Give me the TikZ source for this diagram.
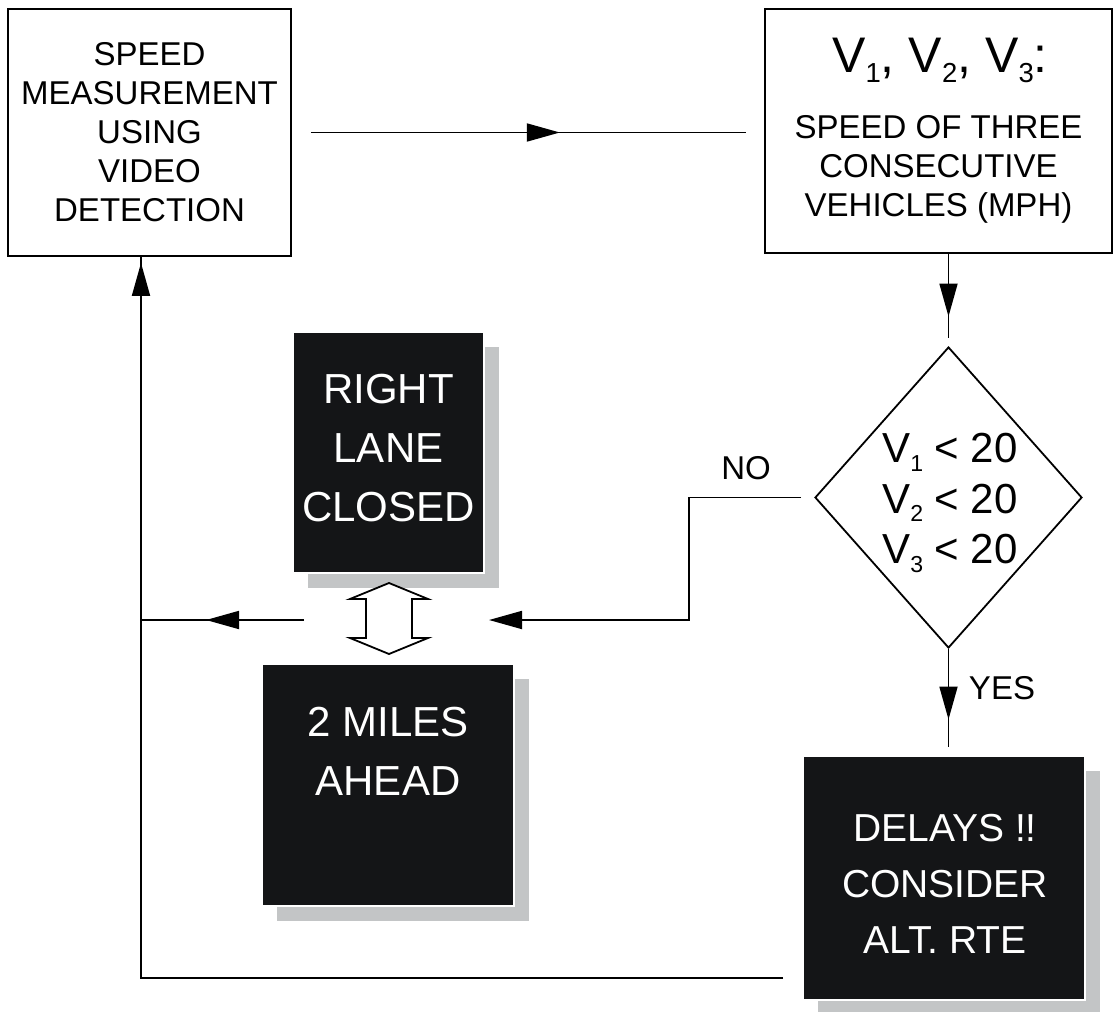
\documentclass[tikz,border=0pt]{standalone}
\usepackage{fontspec}
\setmainfont{Liberation Sans}
\usetikzlibrary{arrows.meta,shapes.geometric,decorations.markings,calc}

\definecolor{signblack}{HTML}{141517}
\definecolor{signshadow}{HTML}{C3C5C6}

% small lowered index, as in V1
\newcommand\vidx[1]{\raisebox{-0.2em}{\scalebox{0.55}{#1}}}

\tikzset{
  >={Triangle[length=16.5pt,width=9pt]},
  wire/.style={line width=0.9pt},
  midarrow/.style={postaction={decorate},
    decoration={markings, mark=at position #1 with {\arrow{>}}}},
  plainbox/.style={draw, line width=0.9pt, inner sep=0pt},
  sign/.style={fill=signblack, draw=white, line width=1pt, inner sep=0pt},
  signshade/.style={fill=signshadow, inner sep=0pt},
  labeltext/.style={font=\fontsize{16.5}{19.5}\selectfont, align=center, inner sep=0pt},
  signtext/.style={text=white, font=\fontsize{21}{29.5}\selectfont, align=center, inner sep=0pt},
}

\begin{document}
\begin{tikzpicture}[x=0.5pt, y=-0.5pt]
\useasboundingbox (0,0) rectangle (1120,1012);

% measurement box
\node[plainbox, labeltext, minimum width=141.5pt, minimum height=123.5pt] (A) at (149.5,132.5)
  {SPEED\\MEASUREMENT\\USING\\VIDEO\\DETECTION};

% speeds box
\node[plainbox, minimum width=173.5pt, minimum height=122pt] (B) at (938.5,131) {};
\node[font=\fontsize{25}{30}\selectfont, inner sep=0pt, anchor=base] (Bhead) at (940,72)
  {V\vidx{1}, V\vidx{2}, V\vidx{3}:};
\node[labeltext] (Bbody) at (938.5,169.5) {SPEED OF THREE\\CONSECUTIVE\\VEHICLES (MPH)};

% decision
\node[diamond, draw, line width=0.9pt, minimum width=133.5pt, minimum height=150.5pt, inner sep=0pt]
  (D) at (948.5,497.5) {};
\node[font=\fontsize{21}{25.25}\selectfont, align=center, inner sep=0pt] (Dtext) at (950,503)
  {V\vidx{1} < 20\\V\vidx{2} < 20\\V\vidx{3} < 20};

% message signs with drop shadows
\node[signshade, minimum width=95.5pt, minimum height=120.5pt] (Cshade) at (403.5,467.5) {};
\node[sign, minimum width=95.5pt, minimum height=120.5pt] (C) at (388.5,452.5) {};
\node[signtext] (Ctext) at (388.5,448) {RIGHT\\LANE\\CLOSED};

\node[signshade, minimum width=126pt, minimum height=121pt] (Gshade) at (403,800) {};
\node[sign, minimum width=126pt, minimum height=121pt] (G) at (388,785) {};
\node[signtext] (Gtext) at (388,751) {2 MILES\\AHEAD};

\node[signshade, minimum width=141pt, minimum height=122pt] (Eshade) at (959,893) {};
\node[sign, minimum width=141pt, minimum height=122pt] (E) at (944,878) {};
\node[signtext, font=\fontsize{19.5}{28}\selectfont] (Etext) at (945,884)
  {DELAYS !!\\CONSIDER\\ALT. RTE};

% alternating display arrow between the two signs
\coordinate (swap) at (389,618.5);
\begin{scope}[shift={(swap)}]
  \draw[line width=0.9pt, fill=white]
    (0,-35.5) -- (39,-19.5) -- (23,-19.5) -- (23,19.5) -- (39,19.5) -- (0,35.5)
    -- (-39,19.5) -- (-23,19.5) -- (-23,-19.5) -- (-39,-19.5) -- cycle;
\end{scope}

% labels
\node[labeltext] (no) at (746,468) {NO};
\node[labeltext] (yes) at (1002,688) {YES};

% connectors
\draw[wire, midarrow=0.572] ($(A.east)+(19,0)$) -- ($(B.west |- A.east)+(-18,0)$);
\draw[wire, midarrow=0.744] (B.south -| D.north) -- ($(D.north)+(0,-8)$);
\draw[wire, midarrow=0.72] (D.south) -- ($(E.north -| D.south)+(0,-8)$);

\coordinate (noTurn) at (689,620);
\coordinate (noEnd) at (489,620);
\draw[wire, ->] ($(D.west)+(-13,0)$) -| (noTurn) -- (noEnd);

\coordinate (loopX) at (141,620);
\coordinate (leftStart) at (304,620);
\draw[wire, midarrow=0.601] (leftStart) -- (loopX);

\coordinate (loopStart) at (783,978);
\draw[wire, midarrow=-3pt] (loopStart) -| (A.south -| loopX);
\end{tikzpicture}
\end{document}
